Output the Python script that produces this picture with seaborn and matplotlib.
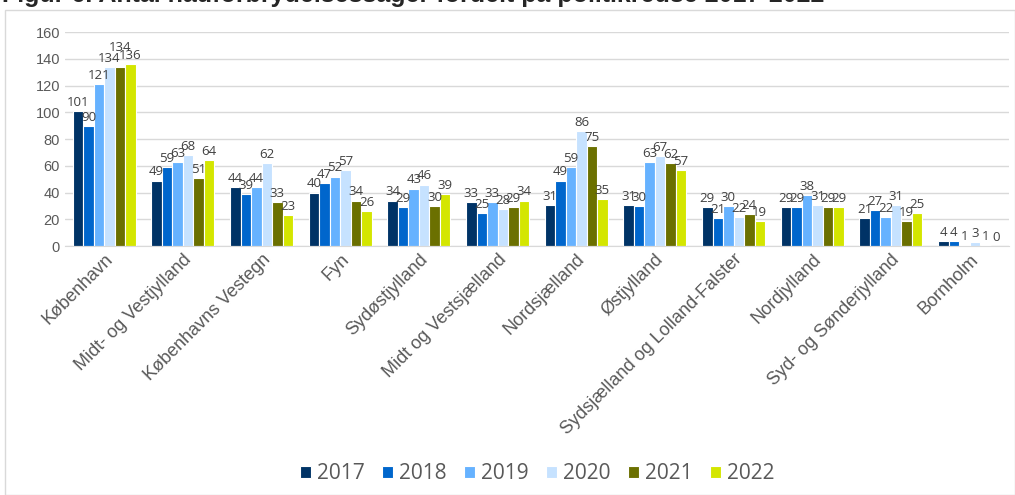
import matplotlib
matplotlib.use("Agg")
import matplotlib.pyplot as plt
import matplotlib.patches as patches
import seaborn as sns
import pandas as pd

# data
kredse = ["København", "Midt- og Vestjylland", "Københavns Vestegn", "Fyn",
          "Sydøstjylland", "Midt og Vestsjælland", "Nordsjælland", "Østjylland",
          "Sydsjælland og Lolland-Falster", "Nordjylland", "Syd- og Sønderjylland",
          "Bornholm"]
years = ["2017", "2018", "2019", "2020", "2021", "2022"]
v2017 = [101, 49, 44, 40, 34, 33, 31, 31, 29, 29, 21, 4]
v2018 = [90, 59, 39, 47, 29, 25, 49, 30, 21, 29, 27, 4]
v2019 = [121, 63, 44, 52, 43, 33, 59, 63, 30, 38, 22, 1]
v2020 = [134, 68, 62, 57, 46, 28, 86, 67, 22, 31, 31, 3]
v2021 = [134, 51, 33, 34, 30, 29, 75, 62, 24, 29, 19, 1]
v2022 = [136, 64, 23, 26, 39, 34, 35, 57, 19, 29, 25, 0]
colors = ["#003366", "#0066CC", "#66B2FF", "#C6E2FF", "#6B7000", "#D4E600"]

rows = []
for y, vals in zip(years, [v2017, v2018, v2019, v2020, v2021, v2022]):
    for k, v in zip(kredse, vals):
        rows.append({"Politikreds": k, "År": y, "Antal": v})
df = pd.DataFrame(rows)

sns.set_style("white")
plt.rcParams["font.family"] = ["Open Sans", "DejaVu Sans"]

fig = plt.figure(figsize=(10.15, 4.95), dpi=100)
ax = fig.add_axes([0.064, 0.503, 0.930, 0.432])

sns.barplot(data=df, x="Politikreds", y="Antal", hue="År", palette=colors,
            saturation=1, width=0.8, edgecolor="white", linewidth=0.8, ax=ax, legend=True)

ax.set_ylim(0, 160)
ax.set_yticks(range(0, 161, 20))
ax.yaxis.grid(True, color="#d9d9d9", linewidth=1)
ax.set_axisbelow(True)
for s in ["top", "right", "left"]:
    ax.spines[s].set_visible(False)
ax.spines["bottom"].set_color("#d9d9d9")
ax.set_xlabel("")
ax.set_ylabel("")
ax.tick_params(axis="y", labelsize=10.5, colors="#595959", length=0)
ax.tick_params(axis="x", labelsize=13, colors="#595959", length=0)
for t in ax.get_yticklabels():
    t.set_family("Liberation Sans")
plt.setp(ax.get_xticklabels(), rotation=45, ha="right", rotation_mode="anchor",
         family="Liberation Sans")
ax.set_xlim(-0.5, 11.5)

# data labels, grouped per politikreds so badly overlapping ones can be lifted
groups = [[] for _ in kredse]
for c in ax.containers:
    for i, bar in enumerate(c):
        h = bar.get_height()
        t = ax.annotate(f"{h:.0f}", xy=(bar.get_x() + bar.get_width() / 2, h),
                        xytext=(0, 1.5), textcoords="offset points",
                        ha="center", va="bottom", fontsize=9.5, color="#404040",
                        family=["Liberation Sans Narrow", "Open Sans"])
        groups[i].append(t)

fig.canvas.draw()
r = fig.canvas.get_renderer()
for g in groups:
    placed = []
    for t in g:
        for _ in range(3):
            bb = t.get_window_extent(r)
            hit = None
            for p in placed:
                ox = min(bb.x1, p.x1) - max(bb.x0, p.x0)
                oy = min(bb.y1, p.y1) - max(bb.y0, p.y0)
                if ox > 7 and oy > 6:
                    hit = p
                    break
            if hit is None:
                break
            shift = (hit.y1 - bb.y0 - 2) * 72 / fig.dpi
            t.xyann = (t.xyann[0], t.xyann[1] + shift)
        placed.append(t.get_window_extent(r))

ax.legend(loc="center", bbox_to_anchor=(0.5, -1.065), ncol=6, frameon=False,
          fontsize=15, labelcolor="#595959", handlelength=0.55, handleheight=0.55,
          handletextpad=0.25, columnspacing=0.85)

# chart border and clipped heading
fig.patches.append(patches.Rectangle((0.005, 0.0), 0.995, 0.98, transform=fig.transFigure,
                                     fill=False, edgecolor="#d9d9d9", linewidth=1))
fig.text(0.002, 0.995, "Figur 6. Antal hadforbrydelsessager fordelt på politikredse 2017-2022",
         fontsize=18, fontweight="bold", family="Liberation Sans", va="baseline")

fig.savefig("out.png", dpi=100)
